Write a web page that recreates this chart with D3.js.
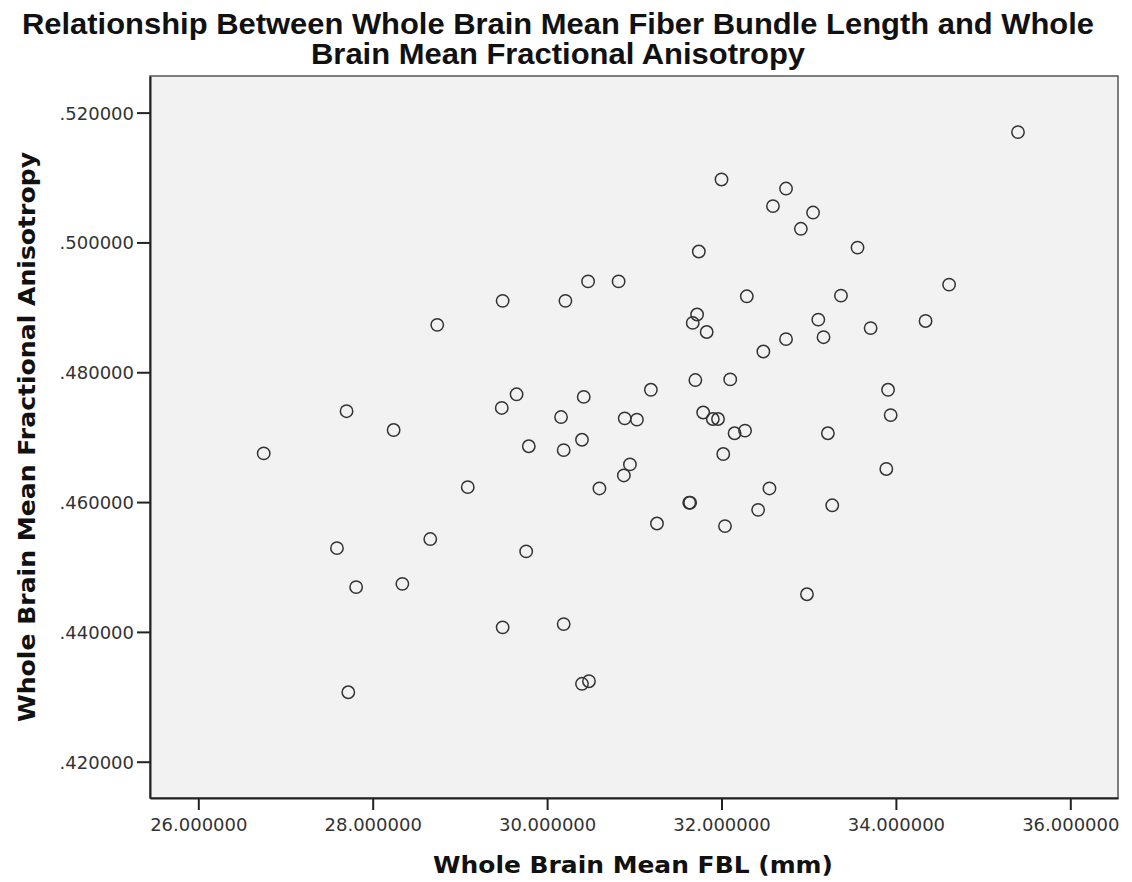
<!DOCTYPE html>
<html>
<head>
<meta charset="utf-8">
<script src="https://cdn.jsdelivr.net/npm/d3@7"></script>
<style>
  html, body { margin: 0; padding: 0; background: #ffffff; }
  svg { display: block; }
</style>
</head>
<body>
<svg id="chart" width="1132" height="882"></svg>
<script>
// ---- Data ----
const fblValues = [
  26.75, 27.70, 27.59, 27.81, 27.72, 28.24, 28.34, 28.66, 28.74, 29.09,
  29.49, 29.48, 29.65, 29.79, 29.76, 29.49, 30.21, 30.16, 30.19, 30.19,
  30.47, 30.40, 30.42, 30.60, 30.40, 30.48, 32.00, 32.74, 32.59, 33.05,
  32.91, 33.56, 31.74, 30.82, 32.29, 33.37, 34.61, 31.72, 31.67, 31.83,
  33.11, 33.71, 34.34, 32.74, 33.17, 32.48, 31.70, 32.10, 33.91, 31.19,
  33.94, 30.89, 31.03, 31.79, 31.90, 31.96, 32.15, 32.27, 33.22, 30.95,
  30.88, 32.02, 33.89, 32.55, 31.63, 31.64, 32.42, 33.27, 31.26, 32.04,
  32.98, 35.40
];
const faValues = [
  .4675, .4740, .4529, .4469, .4307, .4711, .4474, .4543, .4873, .4623,
  .4910, .4745, .4766, .4686, .4524, .4407, .4910, .4731, .4680, .4412,
  .4940, .4696, .4762, .4621, .4320, .4324, .5097, .5083, .5056, .5046,
  .5021, .4992, .4986, .4940, .4917, .4918, .4935, .4889, .4876, .4862,
  .4881, .4868, .4879, .4851, .4854, .4832, .4788, .4789, .4773, .4773,
  .4734, .4729, .4727, .4738, .4728, .4728, .4706, .4710, .4706, .4658,
  .4641, .4674, .4651, .4621, .4599, .4599, .4588, .4595, .4567, .4563,
  .4458, .5170
];
const xTicks = [26, 28, 30, 32, 34, 36];
const yTicks = [.42, .44, .46, .48, .50, .52];
const titleLines = [
  "Relationship Between Whole Brain Mean Fiber Bundle Length and Whole",
  "Brain Mean Fractional Anisotropy"
];
const xTitle = "Whole Brain Mean FBL (mm)";
const yTitle = "Whole Brain Mean Fractional Anisotropy";

// ---- Layout ----
const svg = d3.select("#chart");
const plot = { left: 150, right: 1118, top: 76, bottom: 798 };

const x = d3.scaleLinear().domain([25.446, 36.547]).range([plot.left, plot.right]);
const y = d3.scaleLinear().domain([0.41441, 0.52564]).range([plot.bottom, plot.top]);

// background
svg.append("rect")
  .attr("x", plot.left).attr("y", plot.top)
  .attr("width", plot.right - plot.left).attr("height", plot.bottom - plot.top)
  .attr("fill", "#f2f2f2")
  .attr("stroke", "#555").attr("stroke-width", 1.5);

// axes
const fmtX = d3.format(".6f");
const fmtY = v => d3.format(".6f")(v).replace(/^0/, "");

const xAxis = svg.append("g")
  .attr("transform", `translate(0,${plot.bottom})`)
  .call(d3.axisBottom(x).tickValues(xTicks).tickFormat(fmtX)
    .tickSizeInner(12).tickSizeOuter(0).tickPadding(8));
const yAxis = svg.append("g")
  .attr("transform", `translate(${plot.left},0)`)
  .call(d3.axisLeft(y).tickValues(yTicks).tickFormat(fmtY)
    .tickSizeInner(13).tickSizeOuter(0).tickPadding(3));

[xAxis, yAxis].forEach(g => {
  g.select(".domain").attr("stroke", "#222").attr("stroke-width", 2);
  g.selectAll(".tick line").attr("stroke", "#222").attr("stroke-width", 2);
  g.selectAll(".tick text")
    .attr("fill", "#333")
    .style("font-family", "'DejaVu Sans', Verdana, sans-serif")
    .style("font-size", "18px");
});
yAxis.selectAll(".tick text").attr("dy", "0.36em");

// points
svg.append("g").selectAll("circle")
  .data(fblValues.map((v, i) => [v, faValues[i]]))
  .join("circle")
  .attr("cx", d => x(d[0]))
  .attr("cy", d => y(d[1]))
  .attr("r", 6.2)
  .attr("fill", "none")
  .attr("stroke", "#333")
  .attr("stroke-width", 1.5);

// title
const titleG = svg.append("g")
  .style("font-family", "'Liberation Sans Narrow', 'Arial Narrow', 'Liberation Sans', sans-serif")
  .style("font-weight", "bold")
  .style("font-size", "29px")
  .attr("fill", "#111");
titleG.append("text")
  .attr("x", 558).attr("y", 34)
  .attr("text-anchor", "middle")
  .attr("textLength", 1072).attr("lengthAdjust", "spacingAndGlyphs")
  .text(titleLines[0]);
titleG.append("text")
  .attr("x", 558).attr("y", 64)
  .attr("text-anchor", "middle")
  .attr("textLength", 494).attr("lengthAdjust", "spacingAndGlyphs")
  .text(titleLines[1]);

// axis titles
svg.append("text")
  .attr("x", 633).attr("y", 873)
  .attr("text-anchor", "middle")
  .style("font-family", "'DejaVu Sans', Verdana, sans-serif")
  .style("font-weight", "bold")
  .style("font-size", "23px")
  .attr("fill", "#111")
  .attr("textLength", 400).attr("lengthAdjust", "spacingAndGlyphs")
  .text(xTitle);

svg.append("text")
  .attr("transform", `translate(35,${(plot.top + plot.bottom) / 2}) rotate(-90)`)
  .attr("text-anchor", "middle")
  .style("font-family", "'DejaVu Sans', Verdana, sans-serif")
  .style("font-weight", "bold")
  .style("font-size", "23px")
  .attr("fill", "#111")
  .attr("textLength", 570).attr("lengthAdjust", "spacingAndGlyphs")
  .text(yTitle);
</script>
</body>
</html>
